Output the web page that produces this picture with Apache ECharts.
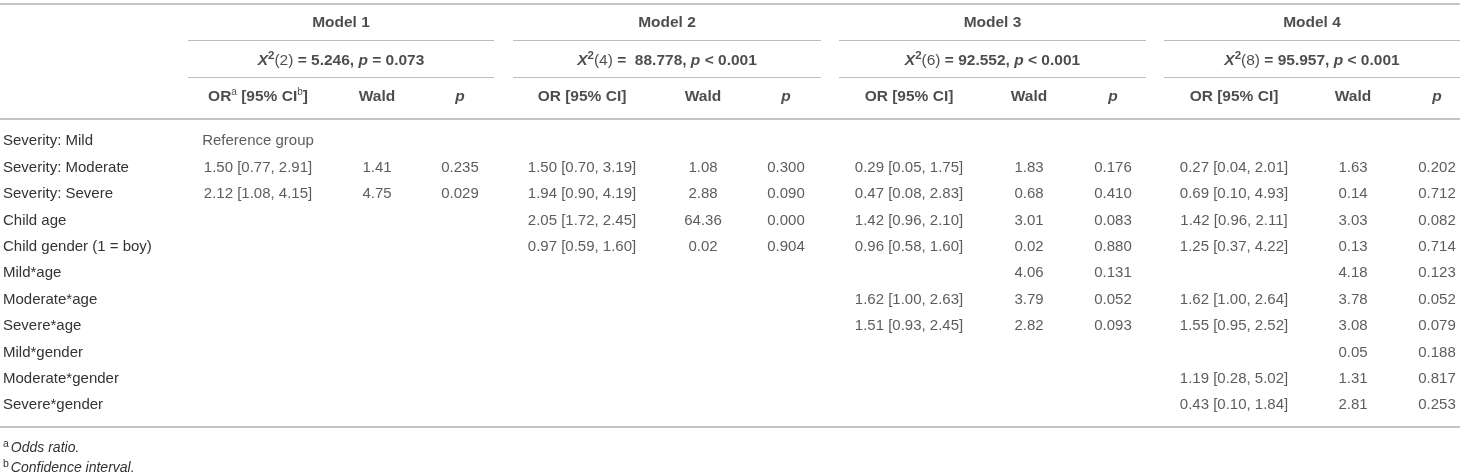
<!DOCTYPE html>
<html><head><meta charset="utf-8">
<script src="https://cdn.jsdelivr.net/npm/echarts@6/dist/echarts.min.js"></script>
<style>html,body{margin:0;padding:0;background:#fff}#c{width:1460px;height:473px}</style>
</head><body><div id="c"></div>
<script>
// ---------- DATA ----------
const rowLabels = ['Severity: Mild','Severity: Moderate','Severity: Severe','Child age','Child gender (1 = boy)','Mild*age','Moderate*age','Severe*age','Mild*gender','Moderate*gender','Severe*gender'];
const modelNames = ['Model 1','Model 2','Model 3','Model 4'];
const chiDf = ['2','4','6','8'];
const chiStat = ['5.246',' 88.778','92.552','95.957'];
const chiP = ['= 0.073','< 0.001','< 0.001','< 0.001'];
const colHeads = ['OR [95% CI]','Wald','p'];

const m1OR   = ['Reference group','1.50 [0.77, 2.91]','2.12 [1.08, 4.15]','','','','','','','',''];
const m1Wald = ['','1.41','4.75','','','','','','','',''];
const m1P    = ['','0.235','0.029','','','','','','','',''];
const m2OR   = ['','1.50 [0.70, 3.19]','1.94 [0.90, 4.19]','2.05 [1.72, 2.45]','0.97 [0.59, 1.60]','','','','','',''];
const m2Wald = ['','1.08','2.88','64.36','0.02','','','','','',''];
const m2P    = ['','0.300','0.090','0.000','0.904','','','','','',''];
const m3OR   = ['','0.29 [0.05, 1.75]','0.47 [0.08, 2.83]','1.42 [0.96, 2.10]','0.96 [0.58, 1.60]','','1.62 [1.00, 2.63]','1.51 [0.93, 2.45]','','',''];
const m3Wald = ['','1.83','0.68','3.01','0.02','4.06','3.79','2.82','','',''];
const m3P    = ['','0.176','0.410','0.083','0.880','0.131','0.052','0.093','','',''];
const m4OR   = ['','0.27 [0.04, 2.01]','0.69 [0.10, 4.93]','1.42 [0.96, 2.11]','1.25 [0.37, 4.22]','','1.62 [1.00, 2.64]','1.55 [0.95, 2.52]','','1.19 [0.28, 5.02]','0.43 [0.10, 1.84]'];
const m4Wald = ['','1.63','0.14','3.03','0.13','4.18','3.78','3.08','0.05','1.31','2.81'];
const m4P    = ['','0.202','0.712','0.082','0.714','0.123','0.052','0.079','0.188','0.817','0.253'];

const footnotes = [['a','Odds ratio.'],['b','Confidence interval.']];

// ---------- LAYOUT ----------
const W = 1460, H = 473;
const L = {
  spans: [[188,494],[513,821],[839,1146],[1164,1460]],
  cols: [[258,377,460],[582,703,786],[909,1029,1113],[1234,1353,1437]],
  yTop: 4, yG1: 40.7, yG2: 77.3, yHead: 118.3, yBottom: 427,
  yModel: 22.5, yChi: 61, yColHead: 97,
  bodyTop: 128.1, bodyHeight: 290.4,
  foot: [448.5, 468.5]
};
const FONT = '"Liberation Sans", Arial, Helvetica, sans-serif';
const TXT = '#333';
const HEAD = '#1f1f1f';

const models = [
  {or:m1OR, wald:m1Wald, p:m1P},
  {or:m2OR, wald:m2Wald, p:m2P},
  {or:m3OR, wald:m3Wald, p:m3P},
  {or:m4OR, wald:m4Wald, p:m4P}
];

const rich = {
  i: {fontStyle:'italic', fontWeight:'bold', fontSize:15.5, color:HEAD, fontFamily:FONT},
  s: {fontSize:11.5, fontWeight:'bold', padding:[0,0,10,0], color:HEAD, fontFamily:FONT},
  a: {fontSize:10, fontWeight:'normal', padding:[0,0,9,0], color:HEAD, fontFamily:FONT},
  b: {fontWeight:'bold', fontSize:15.5, color:HEAD, fontFamily:FONT},
  n: {fontWeight:'normal', fontSize:15.5, color:HEAD, fontFamily:FONT}
};

// header cells
const headData = [];
models.forEach((m, k) => {
  const cx = (L.spans[k][0] + L.spans[k][1]) / 2;
  headData.push({value:[cx, L.yModel], t:'{b|' + modelNames[k] + '}'});
  headData.push({value:[cx, L.yChi], t:'{i|X}{s|2}{n|(' + chiDf[k] + ')}{b| = ' + chiStat[k] + ', }{i|p}{b| ' + chiP[k] + '}'});
  colHeads.forEach((h, c) => {
    let t;
    if (c === 0 && k === 0) t = '{b|OR}{a|a}{b| [95% CI}{a|b}{b|]}';
    else if (c === 2) t = '{i|' + h + '}';
    else t = '{b|' + h + '}';
    headData.push({value:[L.cols[k][c], L.yColHead], t});
  });
});

// rules
const ruleStrong = {color:'#c4c4c4', width:2, type:'solid'};
const ruleThin = {color:'#bdbdbd', width:1, type:'solid'};
const rules = [
  [{coord:[0, L.yTop], lineStyle:ruleStrong}, {coord:[W, L.yTop]}],
  [{coord:[0, L.yHead], lineStyle:ruleStrong}, {coord:[W, L.yHead]}],
  [{coord:[0, L.yBottom], lineStyle:ruleStrong}, {coord:[W, L.yBottom]}]
];
L.spans.forEach(s => {
  rules.push([{coord:[s[0], L.yG1], lineStyle:ruleThin}, {coord:[s[1], L.yG1]}]);
  rules.push([{coord:[s[0], L.yG2], lineStyle:ruleThin}, {coord:[s[1], L.yG2]}]);
});

// body cells
const bodyData = [];
models.forEach((m, k) => {
  [m.or, m.wald, m.p].forEach((arr, c) => {
    arr.forEach((t, r) => { if (t) bodyData.push({value:[L.cols[k][c], r], t}); });
  });
});

const chart = echarts.init(document.getElementById('c'), null, {renderer:'canvas'});
chart.setOption({
  animation: false,
  backgroundColor: '#fff',
  textStyle: {fontFamily: FONT},
  title: footnotes.map((f, i) => ({
    left: 1, top: L.foot[i] - 12, padding: [2, 2, 2, 2],
    text: '{s|' + f[0] + '}{i|' + f[1] + '}',
    textStyle: {fontWeight:'normal', fontStyle:'italic', rich: {
      s: {fontSize:10.5, fontWeight:'normal', fontStyle:'normal', color:TXT, padding:[0,2,8,0], fontFamily:FONT},
      i: {fontSize:14, fontWeight:'normal', fontStyle:'italic', color:TXT, fontFamily:FONT}
    }}
  })),
  grid: [
    {left:0, right:0, top:0, bottom:0},
    {left:0, right:0, top:L.bodyTop, height:L.bodyHeight}
  ],
  xAxis: [
    {type:'value', gridIndex:0, min:0, max:W, show:false},
    {type:'value', gridIndex:1, min:0, max:W, show:false}
  ],
  yAxis: [
    {type:'value', gridIndex:0, min:0, max:H, inverse:true, show:false},
    {type:'category', gridIndex:1, data:rowLabels, inverse:true,
     axisLine:{show:false}, axisTick:{show:false}, splitLine:{show:false},
     axisLabel:{show:true, align:'left', margin:-3, color:TXT, fontSize:15, fontFamily:FONT}}
  ],
  series: [
    {type:'scatter', xAxisIndex:0, yAxisIndex:0, symbolSize:1, silent:true,
     itemStyle:{color:'rgba(0,0,0,0)'},
     data: headData,
     label:{show:true, position:'inside', formatter:p => p.data.t, rich},
     markLine:{silent:true, symbol:'none', label:{show:false}, animation:false, data:rules}
    },
    {type:'scatter', xAxisIndex:1, yAxisIndex:1, symbolSize:1, silent:true,
     itemStyle:{color:'rgba(0,0,0,0)'},
     data: bodyData,
     label:{show:true, position:'inside', formatter:p => p.data.t, color:TXT, fontSize:15, fontFamily:FONT}
    }
  ]
});
</script></body></html>
